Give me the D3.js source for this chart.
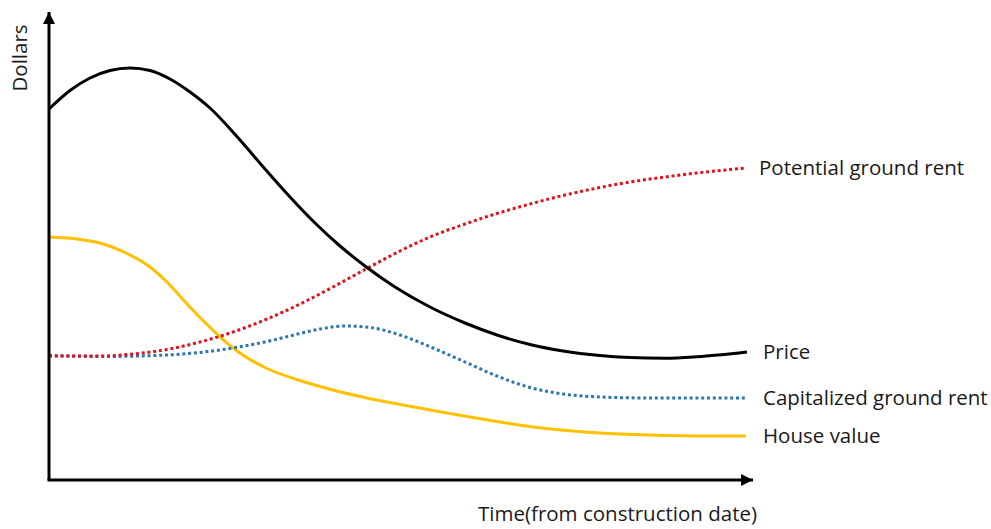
<!DOCTYPE html>
<html>
<head>
<meta charset="utf-8">
<script src="https://cdn.jsdelivr.net/npm/d3@7"></script>
<style>
  html, body { margin: 0; padding: 0; background: #fff; }
  svg { display: block; }
  text { font-family: "Open Sans", "Noto Sans", sans-serif; fill: #1a1a1a; }
</style>
</head>
<body>
<svg id="chart" width="991" height="529"></svg>
<script>
// ---- Data (time since construction, dollars; relative units) ----
const priceT = [0, 2.1, 4.1, 6.1, 8.1, 10.1, 12.1, 14.1, 16.1, 19.1, 21.6, 24.1, 26.6, 29.1, 31.6, 34.6, 38.1, 41.6, 44.8, 48.1, 51.4, 55.1, 58.1, 61.6, 64.8, 69.8];
const priceV = [37.1, 38.95, 40.2, 40.95, 41.2, 40.95, 40.1, 38.8, 37.2, 34.0, 31.1, 28.3, 25.7, 23.4, 21.4, 19.3, 17.3, 15.7, 14.5, 13.55, 12.9, 12.45, 12.25, 12.17, 12.32, 12.8];

const potentialT = [0, 5.1, 8.4, 11.8, 15.1, 18.4, 21.8, 25.1, 28.4, 31.6, 35.1, 38.1, 41.6, 44.8, 48.1, 51.4, 55.1, 58.1, 61.6, 64.8, 69.7];
const potentialV = [12.4, 12.4, 12.6, 13.05, 13.8, 14.8, 16.1, 17.6, 19.3, 21.05, 22.9, 24.3, 25.6, 26.65, 27.6, 28.45, 29.25, 29.8, 30.3, 30.7, 31.2];

const capitalT = [0, 5.1, 11.8, 18.4, 21.8, 25.1, 27.1, 29.6, 32.1, 35.1, 38.4, 41.6, 44.8, 48.1, 51.4, 55.1, 60.1, 69.7];
const capitalV = [12.45, 12.35, 12.5, 13.2, 13.85, 14.65, 15.1, 15.4, 15.25, 14.5, 13.2, 11.8, 10.4, 9.25, 8.6, 8.3, 8.2, 8.2];

const houseT = [0, 2.6, 5.1, 7.6, 10.1, 11.8, 13.4, 15.1, 16.8, 18.4, 20.1, 21.8, 25.1, 28.4, 31.8, 35.1, 38.4, 41.8, 45.1, 48.4, 51.8, 55.1, 60.1, 66.1, 69.7];
const houseV = [24.3, 24.12, 23.7, 22.75, 21.3, 19.8, 18.05, 16.25, 14.6, 13.2, 12.05, 11.15, 9.95, 9.0, 8.2, 7.55, 6.95, 6.35, 5.8, 5.3, 4.95, 4.7, 4.5, 4.4, 4.4];

const seriesNames = ["Potential ground rent", "Price", "Capitalized ground rent", "House value"];
const xTitle = "Time(from construction date)";
const yTitle = "Dollars";

// ---- Layout ----
const svg = d3.select("#chart");
const x = d3.scaleLinear().domain([0, 70.4]).range([49, 753]);
const y = d3.scaleLinear().domain([0, 46.8]).range([480, 12]);
const fs = 20.5;

const series = [
  { name: seriesNames[0], t: potentialT, v: potentialV, color: "#e3101e", dash: "3,2.8", dx: 13 },
  { name: seriesNames[1], t: priceT, v: priceV, color: "#000000", dash: null, dx: 16 },
  { name: seriesNames[2], t: capitalT, v: capitalV, color: "#2e75b6", dash: "3,2.8", dx: 17 },
  { name: seriesNames[3], t: houseT, v: houseV, color: "#ffc000", dash: null, dx: 17 }
];

const line = d3.line()
  .x(d => x(d[0]))
  .y(d => y(d[1]))
  .curve(d3.curveMonotoneX);

// draw order: house, capital, potential, price
[3, 2, 0, 1].forEach(i => {
  const s = series[i];
  const pts = s.t.map((t, k) => [t, s.v[k]]);
  svg.append("path")
    .attr("d", line(pts))
    .attr("fill", "none")
    .attr("stroke", s.color)
    .attr("stroke-width", 3)
    .attr("stroke-dasharray", s.dash)
    .attr("stroke-linecap", "butt");
});

// Labels at line ends
series.forEach(s => {
  const lt = s.t[s.t.length - 1], lv = s.v[s.v.length - 1];
  svg.append("text")
    .attr("x", x(lt) + s.dx)
    .attr("y", y(lv))
    .attr("dy", "0.35em")
    .attr("font-size", fs)
    .text(s.name);
});

// ---- Axes with arrows ----
svg.append("defs").append("marker")
  .attr("id", "arrow")
  .attr("viewBox", "0 0 10 10")
  .attr("refX", 10).attr("refY", 5)
  .attr("markerWidth", 4).attr("markerHeight", 4)
  .attr("markerUnits", "strokeWidth")
  .attr("orient", "auto")
  .append("path")
  .attr("d", "M0,0 L10,5 L0,10 Z")
  .attr("fill", "#000");

const [xmin, xmax] = x.domain();
const [ymin, ymax] = y.domain();
svg.append("path")
  .attr("d", `M${x(xmin)},${y(ymin)} L${x(xmin)},${y(ymax)}`)
  .attr("stroke", "#000").attr("stroke-width", 3).attr("fill", "none")
  .attr("marker-end", "url(#arrow)");
svg.append("path")
  .attr("d", `M${x(xmin) - 1.5},${y(ymin)} L${x(xmax)},${y(ymin)}`)
  .attr("stroke", "#000").attr("stroke-width", 3).attr("fill", "none")
  .attr("marker-end", "url(#arrow)");

// Axis titles
svg.append("text")
  .attr("x", 757).attr("y", 514)
  .attr("dy", "0.35em")
  .attr("text-anchor", "end")
  .attr("font-size", fs)
  .text(xTitle);

svg.append("text")
  .attr("transform", "translate(20,58) rotate(-90)")
  .attr("dy", "0.35em")
  .attr("text-anchor", "middle")
  .attr("font-size", fs)
  .text(yTitle);
</script>
</body>
</html>
